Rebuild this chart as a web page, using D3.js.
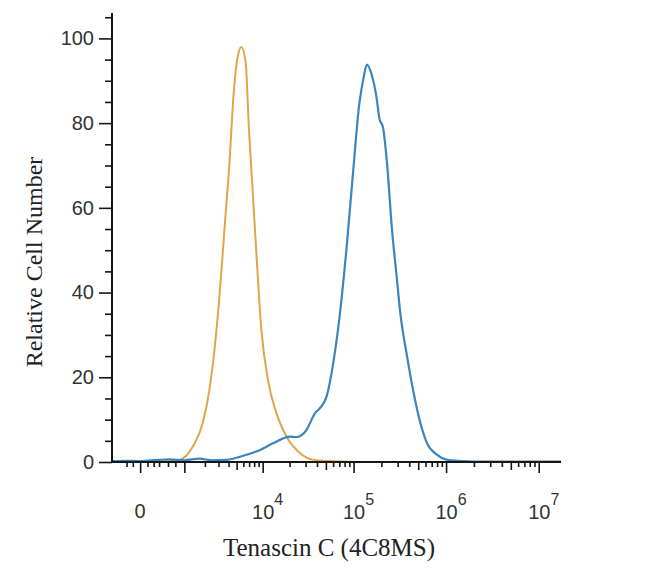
<!DOCTYPE html>
<html>
<head>
<meta charset="utf-8">
<script src="https://cdn.jsdelivr.net/npm/d3@7"></script>
<style>
  html, body { margin: 0; padding: 0; background: #fff; }
  svg { display: block; }
</style>
</head>
<body>
<svg id="chart" width="650" height="585"></svg>
<script>
// ---- data ----
const isotypeX = [-506, 300, 823, 1344, 1868, 2298, 2670, 3092, 3567, 4108, 4593, 5030, 5670, 6370, 6960, 7745, 8605, 9665, 11485, 14285, 18475, 25940, 36350, 60000, 200000, 800000];
const isotypeY = [0, 0.1, 0.5, 3.6, 9.2, 17.1, 26.5, 39.2, 55.0, 70.9, 86.6, 94.5, 98.0, 94.5, 78.7, 62.9, 47.1, 31.3, 19.4, 11.5, 6.0, 2.1, 0.5, 0.2, 0, 0];

const stainedX = [-506, -200, 0, 300, 531, 1000, 1680, 2500, 3745, 6490, 9245, 13080, 20100, 23850, 30750, 37950, 43050, 50950, 60200, 71250, 84300, 99500, 114800, 127800, 139300, 157750, 175750, 190900, 207900, 229650, 260300, 294750, 320300, 378800, 446800, 528000, 624000, 801000, 1028000, 1320000, 3000000, 17400000];
const stainedY = [0.2, 0.3, 0.2, 0.5, 0.6, 0.4, 0.8, 0.4, 0.5, 1.7, 2.8, 4.4, 6.0, 5.9, 7.6, 11.5, 12.7, 15.5, 23.4, 35.2, 51.0, 69.2, 84.2, 90.5, 93.8, 91.3, 86.6, 81.0, 79.1, 70.8, 55.0, 43.1, 35.2, 25.0, 16.3, 9.2, 4.4, 1.7, 0.5, 0.3, 0.1, 0.1];

const yMajorTicks = [0, 20, 40, 60, 80, 100];
const yMinorTicks = [5, 10, 15, 25, 30, 35, 45, 50, 55, 65, 70, 75, 85, 90, 95, 105];
const xDecades = [4, 5, 6, 7];
const xLabelZero = "0";
const xNearZeroTicks = [-200, -100, 100, 200, 300, 500, 700];
const xMultipliers = [2, 3, 4, 5, 6, 7, 8, 9];
const xTitle = "Tenascin C (4C8MS)";
const yTitle = "Relative Cell Number";

// ---- layout ----
const svg = d3.select("#chart");
const mLeft = 112, mRight = 561, mTop = 13, mBottom = 462;

const x = d3.scaleSymlog().constant(500).domain([-506, 1.74e7]).range([mLeft, mRight]);
const y = d3.scaleLinear().domain([0, 106]).range([mBottom, mTop]);

const axisColor = "#151515";

// ---- curves ----
const line = d3.line().x(d => x(d[0])).y(d => y(d[1])).curve(d3.curveMonotoneX);

svg.append("path")
  .datum(isotypeX.map((v, i) => [v, isotypeY[i]]))
  .attr("d", line)
  .attr("fill", "none")
  .attr("stroke", "#e2a34c")
  .attr("stroke-width", 2)
  .attr("stroke-linejoin", "round");

svg.append("path")
  .datum(stainedX.map((v, i) => [v, stainedY[i]]))
  .attr("d", line)
  .attr("fill", "none")
  .attr("stroke", "#3a84bf")
  .attr("stroke-width", 2.2)
  .attr("stroke-linejoin", "round");

// ---- y axis ----
const gy = svg.append("g").attr("transform", `translate(${mLeft},0)`);
gy.call(d3.axisLeft(y).tickValues(yMajorTicks).tickSize(13).tickPadding(5).tickFormat(d3.format("d")));
gy.select(".domain").remove();
gy.selectAll(".tick line").attr("stroke", axisColor).attr("stroke-width", 1.6);
gy.selectAll(".tick text")
  .attr("font-family", "Liberation Sans, Arial, sans-serif")
  .attr("font-size", 20)
  .attr("fill", "#333");

const gyMinor = svg.append("g").attr("transform", `translate(${mLeft},0)`);
gyMinor.call(d3.axisLeft(y).tickValues(yMinorTicks).tickSize(7).tickFormat(""));
gyMinor.select(".domain").remove();
gyMinor.selectAll(".tick line").attr("stroke", axisColor).attr("stroke-width", 1.6);

svg.append("line")
  .attr("x1", mLeft).attr("x2", mLeft)
  .attr("y1", mTop).attr("y2", mBottom + 1)
  .attr("stroke", axisColor).attr("stroke-width", 2);

// ---- x axis ----
const decadeVals = xDecades.map(e => Math.pow(10, e));
const midVals = [];
const minorVals = [];
[3, 4, 5, 6].forEach(e => {
  xMultipliers.forEach(m => {
    const v = m * Math.pow(10, e);
    if (m === 5) midVals.push(v); else minorVals.push(v);
  });
});

const gxMajor = svg.append("g").attr("transform", `translate(0,${mBottom})`);
gxMajor.call(d3.axisBottom(x).tickValues([0, 1000].concat(decadeVals)).tickSize(11).tickFormat(""));
const gxMid = svg.append("g").attr("transform", `translate(0,${mBottom})`);
gxMid.call(d3.axisBottom(x).tickValues(midVals).tickSize(8).tickFormat(""));
const gxMinor = svg.append("g").attr("transform", `translate(0,${mBottom})`);
gxMinor.call(d3.axisBottom(x).tickValues(minorVals.concat(xNearZeroTicks)).tickSize(5).tickFormat(""));
[gxMajor, gxMid, gxMinor].forEach(g => {
  g.select(".domain").remove();
  g.selectAll(".tick line").attr("stroke", axisColor).attr("stroke-width", 1.6);
});

svg.append("line")
  .attr("x1", mLeft - 1).attr("x2", mRight)
  .attr("y1", mBottom).attr("y2", mBottom)
  .attr("stroke", axisColor).attr("stroke-width", 2);

// x tick labels
const labelFont = "Liberation Sans, Arial, sans-serif";
svg.append("text")
  .attr("x", x(0)).attr("y", 518)
  .attr("text-anchor", "middle")
  .attr("font-family", labelFont).attr("font-size", 20).attr("fill", "#333")
  .text(xLabelZero);

xDecades.forEach(e => {
  const t = svg.append("text")
    .attr("x", x(Math.pow(10, e)) + 5).attr("y", 519)
    .attr("text-anchor", "middle")
    .attr("font-family", labelFont).attr("font-size", 20).attr("fill", "#333");
  t.append("tspan").text("10");
  t.append("tspan").attr("dy", -14).attr("font-size", 16).text(String(e));
});

// ---- titles ----
svg.append("text")
  .attr("x", 329).attr("y", 556)
  .attr("text-anchor", "middle")
  .attr("font-family", "Liberation Serif, Times New Roman, serif")
  .attr("font-size", 25)
  .attr("fill", "#222")
  .text(xTitle);

svg.append("text")
  .attr("transform", "translate(42,262) rotate(-90)")
  .attr("text-anchor", "middle")
  .attr("font-family", "Liberation Serif, Times New Roman, serif")
  .attr("font-size", 24)
  .attr("fill", "#222")
  .text(yTitle);
</script>
</body>
</html>
